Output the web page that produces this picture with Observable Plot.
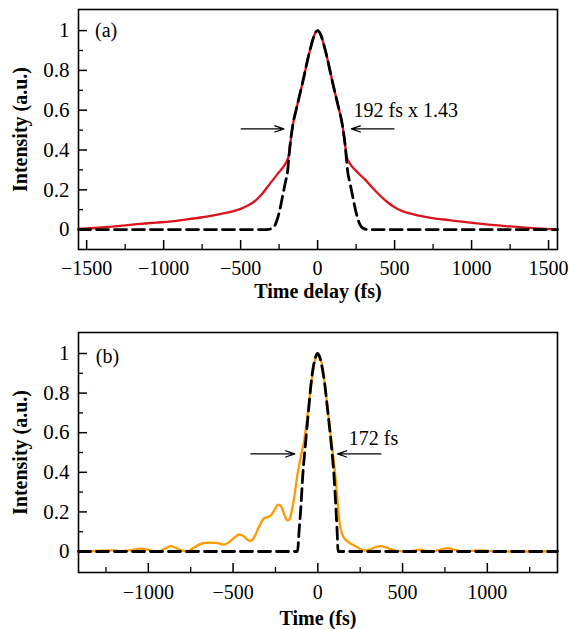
<!DOCTYPE html>
<html>
<head>
<meta charset="utf-8">
<script src="https://cdn.jsdelivr.net/npm/d3@7"></script>
<script src="https://cdn.jsdelivr.net/npm/@observablehq/plot@0.6"></script>
<style>
  html, body { margin: 0; padding: 0; background: #fff; }
  #chart svg { display: block; }
</style>
</head>
<body>
<div id="chart"></div>
<script>
// ---------- Panel (a): autocorrelation ----------
const timeA = [-1550, -1450, -1350, -1250, -1150, -1050, -950, -850, -750, -686, -620, -560, -500, -450, -400, -360, -320, -280, -250, -220, -200, -188, -178, -168, -155, -140, -120, -100, -80, -60, -40, -20, 0, 20, 40, 60, 80, 100, 120, 140, 155, 168, 178, 188, 200, 220, 250, 280, 310, 350, 400, 450, 500, 550, 600, 650, 745, 850, 950, 1050, 1150, 1250, 1350, 1450, 1555];
const measA = [0.003, 0.008, 0.014, 0.021, 0.029, 0.035, 0.041, 0.051, 0.062, 0.070, 0.080, 0.090, 0.104, 0.122, 0.148, 0.180, 0.220, 0.260, 0.290, 0.318, 0.345, 0.370, 0.430, 0.490, 0.550, 0.600, 0.665, 0.730, 0.800, 0.870, 0.930, 0.980, 1.000, 0.980, 0.930, 0.870, 0.800, 0.730, 0.665, 0.600, 0.550, 0.490, 0.430, 0.370, 0.345, 0.320, 0.295, 0.272, 0.250, 0.215, 0.175, 0.140, 0.112, 0.093, 0.081, 0.072, 0.058, 0.048, 0.039, 0.030, 0.022, 0.016, 0.010, 0.005, 0.001];
const timeFitA = [-1553, -340, -320, -295, -275, -258, -240, -225, -210, -194, -188, -178, -168, -155, -140, -120, -100, -80, -60, -40, -20, 0, 20, 40, 60, 80, 100, 120, 140, 155, 168, 178, 188, 194, 210, 225, 240, 258, 275, 295, 320, 340, 1558];
const fitA = [0, 0, 0.001, 0.007, 0.025, 0.062, 0.120, 0.178, 0.235, 0.300, 0.350, 0.430, 0.490, 0.550, 0.600, 0.665, 0.730, 0.800, 0.870, 0.930, 0.980, 1.000, 0.980, 0.930, 0.870, 0.800, 0.730, 0.665, 0.600, 0.550, 0.490, 0.430, 0.350, 0.300, 0.235, 0.178, 0.120, 0.062, 0.025, 0.007, 0.001, 0, 0];
const xTicksA = [-1500, -1000, -500, 0, 500, 1000, 1500];
const xMinorA = [-1250, -750, -250, 250, 750, 1250];
const arrowX1A = [-496, 496];
const arrowX2A = [-219, 219];
const arrowYA = [0.506, 0.506];
const labelA = ["192 fs x 1.43"];
const labelXA = [233];
const labelYA = [0.598];

// ---------- Panel (b): retrieved pulse ----------
const timeB = [-1340, -1280, -1222, -1170, -1123, -1080, -1045, -1000, -946, -900, -868, -830, -790, -769, -740, -700, -671, -632, -600, -553, -520, -490, -465, -440, -415, -396, -370, -345, -317, -295, -277, -255, -234, -215, -195, -180, -169, -155, -140, -120, -100, -81, -65, -51, -38, -25, -12, -3, 10, 28, 42, 57, 72, 87, 96, 106, 116, 126, 136, 150, 165, 190, 214, 240, 273, 300, 340, 372, 410, 451, 480, 510, 560, 608, 640, 667, 720, 766, 800, 845, 900, 962, 1000, 1041, 1200, 1356];
const pulseB = [0.000, 0.004, 0.006, 0.003, 0.004, 0.010, 0.015, 0.008, 0.000, 0.015, 0.027, 0.015, 0.002, 0.000, 0.015, 0.035, 0.043, 0.045, 0.044, 0.035, 0.050, 0.072, 0.086, 0.078, 0.060, 0.054, 0.080, 0.130, 0.168, 0.175, 0.182, 0.210, 0.237, 0.225, 0.180, 0.157, 0.160, 0.200, 0.270, 0.390, 0.480, 0.560, 0.660, 0.760, 0.850, 0.930, 0.980, 1.000, 0.985, 0.930, 0.840, 0.730, 0.620, 0.510, 0.440, 0.360, 0.260, 0.160, 0.110, 0.075, 0.058, 0.042, 0.030, 0.018, 0.005, 0.008, 0.022, 0.027, 0.018, 0.006, 0.002, 0.000, 0.003, 0.009, 0.003, 0.000, 0.008, 0.017, 0.010, 0.002, 0.003, 0.006, 0.003, 0.000, 0.000, 0.000];
const timeFitB = [-1412, -120, -110, -100, -90, -71, -55, -41, -25, -10, -3, 10, 25, 40, 57, 77, 96, 106, 113, 120, 1414];
const fitB = [0, 0, 0.11, 0.224, 0.37, 0.56, 0.71, 0.84, 0.94, 0.99, 1.0, 0.985, 0.93, 0.85, 0.72, 0.56, 0.375, 0.23, 0.12, 0, 0];
const xTicksB = [-1000, -500, 0, 500, 1000];
const xMinorB = [-1250, -750, -250, 250, 750, 1250];
const arrowX1B = [-395, 372];
const arrowX2B = [-136, 116];
const arrowYB = [0.493, 0.493];
const labelB = ["172 fs"];
const labelXB = [183];
const labelYB = [0.571];

// ---------- shared ----------
const yTicks = [0, 0.2, 0.4, 0.6, 0.8, 1];
const yMinor = [0.1, 0.3, 0.5, 0.7, 0.9];
const yTitle = "Intensity (a.u.)";

const zip = (xs, ys) => xs.map((x, i) => ({x, y: ys[i]}));
const fmtX = d => d < 0 ? "\u2212" + Math.abs(d) : String(d);
const fmtY = d => String(d);
const FONT = "'Liberation Serif', 'Times New Roman', Times, serif";

function panel(o) {
  const W = 569, ML = 78, MR = 12;
  const frameW = W - ML - MR;
  const frameH = o.height - o.marginTop - o.marginBottom;
  const arrows = o.ax1.map((x1, i) => ({x1, x2: o.ax2[i], y: o.ay[i]}));
  const labels = o.lab.map((t, i) => ({t, x: o.lx[i], y: o.ly[i]}));
  return Plot.plot({
    width: W, height: o.height,
    marginLeft: ML, marginRight: MR, marginTop: o.marginTop, marginBottom: o.marginBottom,
    x: {domain: o.xDomain, axis: null},
    y: {domain: o.yDomain, axis: null},
    style: {fontFamily: FONT, fontSize: "20px", color: "black", background: "white", overflow: "visible"},
    marks: [
      Plot.line(zip(o.tData, o.vData), {x: "x", y: "y", stroke: o.color, strokeWidth: 2.3, curve: "monotone-x"}),
      Plot.line(zip(o.tFit, o.vFit), {x: "x", y: "y", stroke: "black", strokeWidth: 2.8, strokeDasharray: "12,6", curve: "monotone-x"}),
      Plot.frame({stroke: "black", strokeWidth: 1.6}),
      Plot.tickX(o.xTicks, {x: d => d, insetTop: frameH - 9, stroke: "black", strokeWidth: 1.5}),
      Plot.tickX(o.xMinor, {x: d => d, insetTop: frameH - 5, stroke: "black", strokeWidth: 1.3}),
      Plot.tickY(yTicks, {y: d => d, insetRight: frameW - 9, stroke: "black", strokeWidth: 1.5}),
      Plot.tickY(yMinor, {y: d => d, insetRight: frameW - 5, stroke: "black", strokeWidth: 1.3}),
      Plot.text(o.xTicks, {x: d => d, text: fmtX, frameAnchor: "bottom", lineAnchor: "middle", textAnchor: "middle", dy: o.tickDy, fontSize: 20}),
      Plot.text(yTicks, {y: d => d, text: fmtY, frameAnchor: "left", lineAnchor: "middle", textAnchor: "end", dx: -9, fontSize: 21}),
      Plot.arrow(arrows, {x1: "x1", x2: "x2", y1: "y", y2: "y", stroke: "black", strokeWidth: 1.3, headLength: 11, headAngle: 38}),
      Plot.text(labels, {x: "x", y: "y", text: "t", textAnchor: "start", lineAnchor: "middle", fontSize: 20}),
      Plot.text([o.tag], {x: o.tagX, y: o.tagY, textAnchor: "start", lineAnchor: "middle", fontSize: 20}),
      Plot.text([o.xTitle], {frameAnchor: "bottom", lineAnchor: "middle", textAnchor: "middle", dy: o.titleDy, fontWeight: "bold", fontSize: 20}),
      Plot.text([yTitle], {frameAnchor: "left", rotate: -90, textAnchor: "middle", lineAnchor: "middle", dx: -58, fontWeight: "bold", fontSize: 20})
    ]
  });
}

const chart = document.getElementById("chart");
chart.appendChild(panel({
  height: 322, marginTop: 9, marginBottom: 73,
  xDomain: [-1553, 1558], yDomain: [-0.1, 1.106],
  tData: timeA, vData: measA, color: "#d9141c",
  tFit: timeFitA, vFit: fitA,
  xTicks: xTicksA, xMinor: xMinorA,
  ax1: arrowX1A, ax2: arrowX2A, ay: arrowYA,
  lab: labelA, lx: labelXA, ly: labelYA,
  tag: "(a)", tagX: -1446, tagY: 1.0,
  xTitle: "Time delay (fs)", titleDy: 42, tickDy: 19
}));
chart.appendChild(panel({
  height: 307, marginTop: 10, marginBottom: 57,
  xDomain: [-1412, 1414], yDomain: [-0.106, 1.106],
  tData: timeB, vData: pulseB, color: "#ff9a00",
  tFit: timeFitB, vFit: fitB,
  xTicks: xTicksB, xMinor: xMinorB,
  ax1: arrowX1B, ax2: arrowX2B, ay: arrowYB,
  lab: labelB, lx: labelXB, ly: labelYB,
  tag: "(b)", tagX: -1310, tagY: 0.985,
  xTitle: "Time (fs)", titleDy: 46, tickDy: 20
}));
</script>
</body>
</html>
